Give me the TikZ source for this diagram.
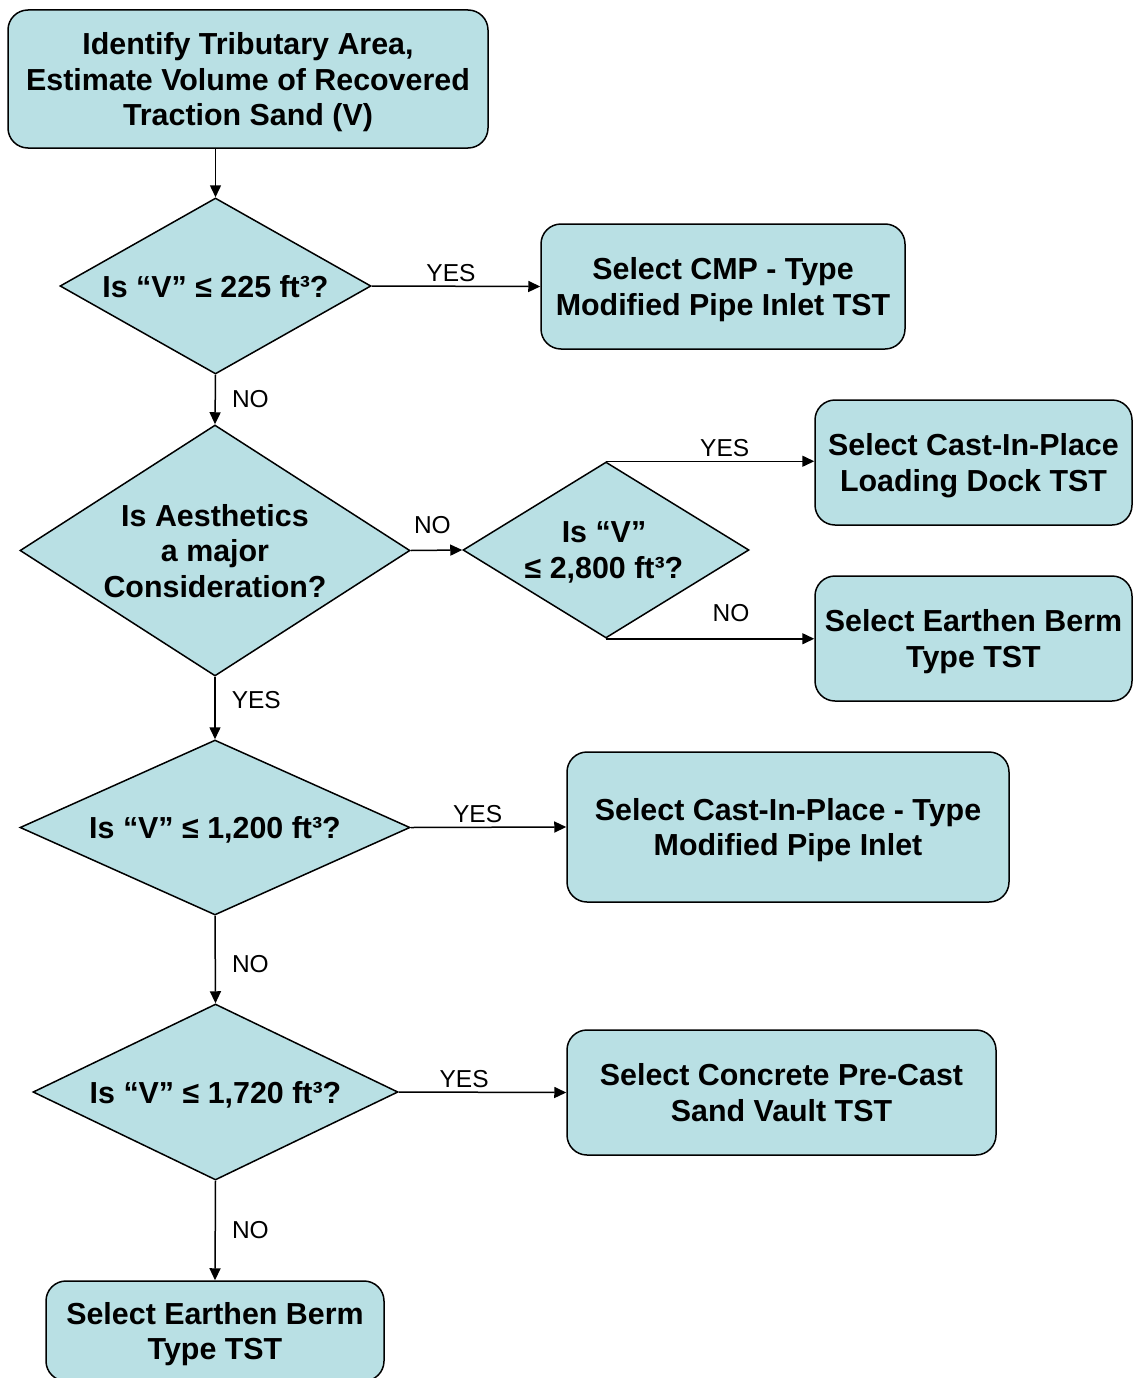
\documentclass[tikz,border=0pt]{standalone}
\usepackage{fontspec}
\setmainfont{Liberation Sans}
\usetikzlibrary{shapes.geometric,arrows.meta}
\definecolor{tstfill}{RGB}{185,224,228}
\tikzset{
  tstbox/.style   = {draw, line width=1.5pt, fill=tstfill, rounded corners=20pt,
                     align=center, inner sep=0pt, text depth=0pt,
                     font=\fontsize{30.4}{35.5}\selectfont\bfseries},
  tstask/.style   = {draw, line width=1.5pt, fill=tstfill, diamond, inner sep=0pt},
  asktext/.style  = {align=center, text depth=0pt,
                     font=\fontsize{30.4}{35.5}\selectfont\bfseries},
  flow/.style     = {line width=1.5pt, -{Triangle[length=12pt,width=11pt]}},
  yesno/.style    = {inner sep=1pt, font=\fontsize{24.5}{28}\selectfont}
}
\begin{document}
\begin{tikzpicture}[x = 1pt, y = -1pt]
        \useasboundingbox (0,0) rectangle (1133,1378);
        \node[tstbox, minimum width=480pt, minimum height=138pt] (start) at (248,79)
             {Identify Tributary Area,\\Estimate Volume of Recovered\\Traction Sand (V)};
        \node[tstask, minimum width=311pt, minimum height=176pt,
              label={[asktext]center:Is “V” ≤ 225 ft³?}] (q225) at (215.5,286) {};
        \node[tstbox, minimum width=364pt, minimum height=125pt] (cmp) at (723,286.5)
             {Select CMP - Type\\Modified Pipe Inlet TST};
        \node[tstask, minimum width=390pt, minimum height=251pt,
              label={[asktext]center:Is Aesthetics\\a major\\Consideration?}] (looks) at (215,550.5) {};
        \node[tstask, minimum width=286pt, minimum height=176pt,
              label={[asktext,xshift=-2pt]center:Is “V”\\≤ 2,800 ft³?}] (q2800) at (606,550) {};
        \node[tstbox, minimum width=317pt, minimum height=125pt] (dock) at (973.5,462.5)
             {Select Cast-In-Place\\Loading Dock TST};
        \node[tstbox, minimum width=317pt, minimum height=125pt] (berm) at (973.5,638.5)
             {Select Earthen Berm\\Type TST};
        \node[tstask, minimum width=390pt, minimum height=175pt,
              label={[asktext]center:Is “V” ≤ 1,200 ft³?}] (q1200) at (215,827.5) {};
        \node[tstbox, minimum width=442pt, minimum height=150pt] (inlet) at (788,827)
             {Select Cast-In-Place - Type\\Modified Pipe Inlet};
        \node[tstask, minimum width=365pt, minimum height=176pt,
              label={[asktext]center:Is “V” ≤ 1,720 ft³?}] (q1720) at (215.5,1092) {};
        \node[tstbox, minimum width=429pt, minimum height=125pt] (vault) at (781.5,1092.5)
             {Select Concrete Pre-Cast\\Sand Vault TST};
        \node[tstbox, minimum width=338pt, minimum height=100pt] (bermb) at (215,1331)
             {Select Earthen Berm\\Type TST};
        \draw[flow] (q225.north |- start.south) -- (q225.north);
        \draw[flow] (q225.east) -- node[yesno, above=3pt, pos=0.47] {YES} (cmp.west);
        \draw[flow] (q225.south) -- node[yesno, right=15pt] {NO} (looks.north);
        \draw[flow] (looks.east) -- node[yesno, above=15pt, pos=0.42] {NO} (q2800.west);
        \draw[flow] (q2800.north) -- node[yesno, above=3pt, pos=0.57] {YES} (dock.west |- q2800.north);
        \draw[flow] (q2800.south) -- node[yesno, above=15pt, pos=0.60] {NO} (berm.west |- q2800.south);
        \draw[flow] (looks.south) -- node[yesno, right=15pt, pos=0.38] {YES} (q1200.north);
        \draw[flow] (q1200.east) -- node[yesno, above=3pt, pos=0.43] {YES} (inlet.west);
        \draw[flow] (q1200.south) -- node[yesno, right=15pt, pos=0.55] {NO} (q1720.north);
        \draw[flow] (q1720.east) -- node[yesno, above=3pt, pos=0.39] {YES} (vault.west);
        \draw[flow] (q1720.south) -- node[yesno, right=15pt] {NO} (bermb.north);
      \end{tikzpicture}
\end{document}
